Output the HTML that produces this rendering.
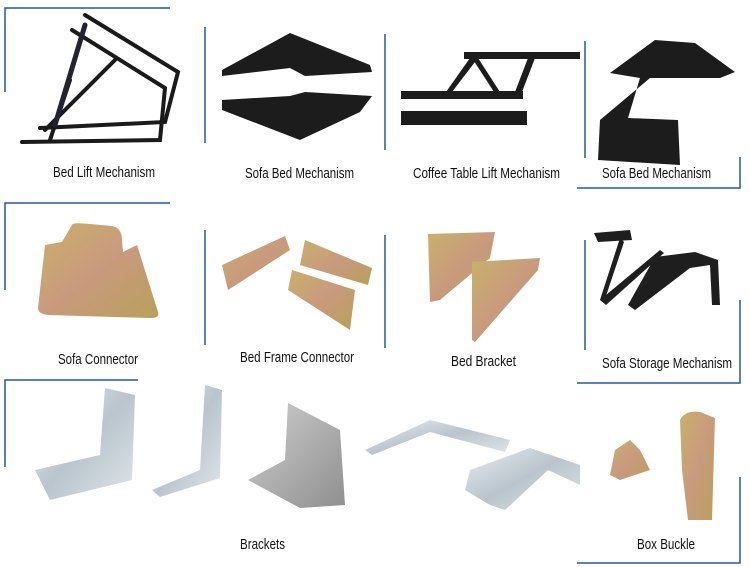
<!DOCTYPE html>
<html><head><meta charset="utf-8"><style>
html,body{margin:0;padding:0;background:#fff;width:750px;height:567px;overflow:hidden}
svg{display:block}
text{font-family:"Liberation Sans",sans-serif;font-size:15px;fill:#111}
</style></head><body>
<svg width="750" height="567" viewBox="0 0 750 567" xmlns="http://www.w3.org/2000/svg">
<defs>
<linearGradient id="brass" x1="0" y1="0" x2="1" y2="1"><stop offset="0" stop-color="#c9b06a"/><stop offset=".5" stop-color="#c99a7e"/><stop offset="1" stop-color="#b8a05a"/></linearGradient>
<linearGradient id="zinc" x1="0" y1="0" x2="1" y2="1"><stop offset="0" stop-color="#e8eef2"/><stop offset=".5" stop-color="#b9c4cc"/><stop offset="1" stop-color="#dfe6ea"/></linearGradient>
<linearGradient id="steel" x1="0" y1="0" x2="1" y2="1"><stop offset="0" stop-color="#cfcfcf"/><stop offset="1" stop-color="#8f8f8f"/></linearGradient>
</defs>
<g stroke="#1f5aa6" stroke-width="1.5" fill="none">
<path d="M170 8H5V92"/><path d="M205 27V143"/><path d="M385 34V150"/><path d="M585 41V158"/><path d="M577 188H740V157"/>
<path d="M170 203H5V290"/><path d="M205 230V345"/><path d="M385 235V348"/><path d="M585 240V350"/><path d="M577 383H740V300"/>
<path d="M138 380H5V467"/><path d="M577 563H740V477"/>
</g>
<g stroke="#1a1a1a" stroke-width="4" fill="none" stroke-linecap="round">
<path d="M85 15L178 72L165 122L40 128"/><path d="M72 30L165 88L160 140L22 142"/>
<path d="M115 60L45 130"/><path d="M70 80L50 140"/>
<path d="M85 25L55 125" stroke="#223" stroke-width="5"/>
</g>
<g fill="#1c1c1c">
<path d="M222 70L290 33L370 65L372 72L305 76L290 68L222 76Z"/>
<path d="M222 100L290 96L305 92L372 96L360 112L300 140L222 110Z"/>
<rect x="464" y="52" width="116" height="7"/><rect x="401" y="91" width="122" height="8"/><rect x="401" y="111" width="126" height="14"/>
<path d="M470 58L478 58L452 92L446 92Z"/><path d="M478 58L500 92L494 92L472 58Z"/><path d="M528 58L535 58L522 92L515 92Z"/>
<path d="M610 73L655 40L695 43L735 72L720 78L650 78L600 120L598 160L680 165L678 120L628 118L640 78Z"/>
</g>
<text x="53" y="177" textLength="102" lengthAdjust="spacingAndGlyphs">Bed Lift Mechanism</text>
<text x="245" y="178" textLength="109" lengthAdjust="spacingAndGlyphs">Sofa Bed Mechanism</text>
<text x="413" y="178" textLength="147" lengthAdjust="spacingAndGlyphs">Coffee Table Lift Mechanism</text>
<text x="602" y="178" textLength="109" lengthAdjust="spacingAndGlyphs">Sofa Bed Mechanism</text>
<path d="M72 225Q72 222 90 224L112 226Q122 228 122 240L123 252L137 245L158 312Q160 318 150 318L48 315Q38 314 38 308L45 245L62 242Z" fill="url(#brass)"/>
<g fill="url(#brass)"><path d="M222 265L285 236L290 250L228 290Z"/><path d="M305 240L372 268L368 285L300 265Z"/><path d="M292 270L355 290L350 330L288 290Z"/>
<path d="M428 234L495 232L490 258L440 300L430 302Z"/><path d="M472 262L540 258L538 270L475 342L472 340Z"/></g>
<g fill="#1e1e1e"><path d="M594 233L630 230L632 240L598 242Z"/><path d="M620 238L600 300L604 302L624 242Z"/><path d="M655 257L695 252L718 260L720 305L712 305L710 265L690 268L635 310L628 305Z"/><path d="M600 300L660 250L664 253L606 305Z"/></g>
<text x="58" y="364" textLength="80" lengthAdjust="spacingAndGlyphs">Sofa Connector</text>
<text x="240" y="362" textLength="114" lengthAdjust="spacingAndGlyphs">Bed Frame Connector</text>
<text x="451" y="366" textLength="65" lengthAdjust="spacingAndGlyphs">Bed Bracket</text>
<text x="602" y="368" textLength="130" lengthAdjust="spacingAndGlyphs">Sofa Storage Mechanism</text>
<path d="M105 388L135 395L132 480L50 500L35 470L100 455Z" fill="url(#zinc)"/>
<path d="M205 385L222 390L220 478L160 497L152 490L200 470Z" fill="url(#zinc)"/>
<path d="M288 403L340 430L345 505L300 508L248 480L285 460Z" fill="url(#steel)"/>
<path d="M365 450L430 420L510 440L505 452L430 432L372 455Z" fill="url(#zinc)"/>
<path d="M470 470L530 448L580 465L580 485L548 470L505 510L490 505L465 490Z" fill="url(#zinc)"/>
<path d="M615 450L630 440L640 450L650 470L620 480L610 475Z" fill="url(#brass)"/>
<path d="M680 420Q685 410 700 412L715 418L712 520L688 520L682 470Z" fill="url(#brass)"/>
<text x="240" y="549" textLength="45" lengthAdjust="spacingAndGlyphs">Brackets</text>
<text x="637" y="549" textLength="58" lengthAdjust="spacingAndGlyphs">Box Buckle</text>
</svg>
</body></html>
